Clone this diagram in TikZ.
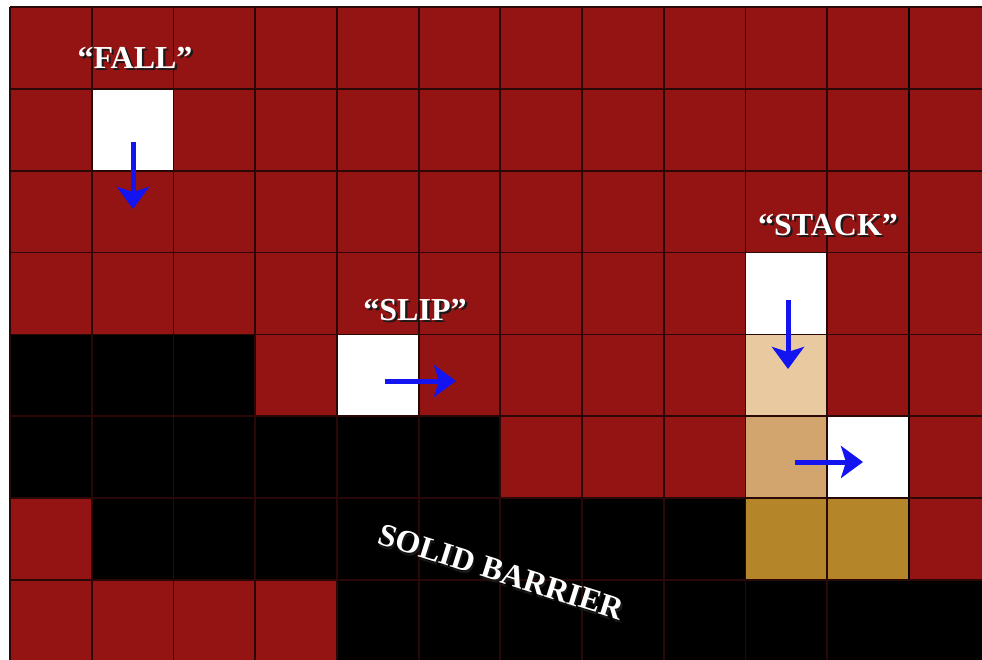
\documentclass[tikz,border=0pt]{standalone}
\usepackage{fontspec}
\setmainfont{Liberation Serif}
\usetikzlibrary{arrows.meta}
\definecolor{brick}{HTML}{941414}
\definecolor{gridc}{HTML}{2A0808}
\definecolor{tanA}{HTML}{E8C9A0}
\definecolor{tanB}{HTML}{D2A46E}
\definecolor{goldc}{HTML}{B5852A}
\definecolor{arrowblue}{HTML}{1414F0}
\newcommand\gcell[3]{\fill[#3] ({10+#1*81.73},{7+#2*81.86}) rectangle ++(81.73,81.86);}
\newcommand\shtext[1]{\rlap{\kern2.2pt\raisebox{-2.2pt}{\textcolor{black!90}{#1}}}#1}
\tikzset{
  gridline/.style={draw=gridc, line width=1.8pt},
  bluearrow/.style={draw=arrowblue, line width=5pt, -{Stealth[length=22pt,width=32pt,inset=5pt]}},
  lbl/.style={text=white, font=\fontsize{32}{34}\selectfont\bfseries, inner sep=0pt},
}
\begin{document}
\begin{tikzpicture}[x=1pt,y=-1pt]
\useasboundingbox (0,0) rectangle (982,660);
\fill[white] (0,0) rectangle (982,660);
\clip (0,0) rectangle (982,660);
\fill[brick] (10,7) rectangle (982,660);
% black barrier
\foreach \c in {0,1,2} {\gcell{\c}{4}{black}}
\foreach \c in {0,...,5} {\gcell{\c}{5}{black}}
\foreach \c in {1,...,8} {\gcell{\c}{6}{black}}
\foreach \c in {4,...,11} {\gcell{\c}{7}{black}}
% white cells
\gcell{1}{1}{white}
\gcell{9}{3}{white}
\gcell{4}{4}{white}
\gcell{10}{5}{white}
% stacked cells
\gcell{9}{4}{tanA}
\gcell{9}{5}{tanB}
\gcell{9}{6}{goldc}
\gcell{10}{6}{goldc}
% grid
\foreach \i in {0,...,11} {\draw[gridline] ({10+\i*81.73},7) -- ({10+\i*81.73},660);}
\draw[draw=black, line width=2.6pt] (909,7) -- (909,660);
\foreach \j in {0,...,7} {\draw[gridline] (10,{7+\j*81.86}) -- (982,{7+\j*81.86});}
% arrows
\coordinate (fallA) at (133,142); \coordinate (fallB) at (133,209);
\coordinate (slipA) at (385,381); \coordinate (slipB) at (456,381);
\coordinate (stackA) at (788,300); \coordinate (stackB) at (788,369);
\coordinate (stackC) at (795,462); \coordinate (stackD) at (863,462);
\draw[bluearrow] (fallA) -- (fallB);
\draw[bluearrow] (slipA) -- (slipB);
\draw[bluearrow] (stackA) -- (stackB);
\draw[bluearrow] (stackC) -- (stackD);
% labels
\node[lbl] (fall) at (135,59) {\shtext{“FALL”}};
\node[lbl] (slip) at (415,311) {\shtext{“SLIP”}};
\node[lbl] (stack) at (828,226) {\shtext{“STACK”}};
\node[lbl, rotate=-17.5] (bar) at (501,573) {\shtext{SOLID BARRIER}};
\end{tikzpicture}
\end{document}
